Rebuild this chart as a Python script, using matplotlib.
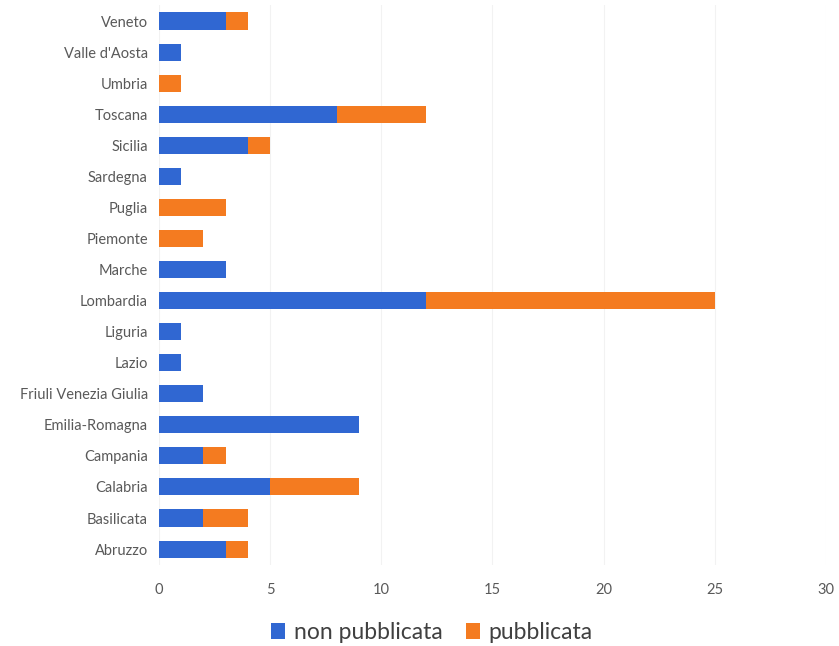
import numpy as np
import matplotlib.pyplot as plt

regions = ['Abruzzo', 'Basilicata', 'Calabria', 'Campania', 'Emilia-Romagna',
           'Friuli Venezia Giulia', 'Lazio', 'Liguria', 'Lombardia', 'Marche',
           'Piemonte', 'Puglia', 'Sardegna', 'Sicilia', 'Toscana', 'Umbria',
           "Valle d'Aosta", 'Veneto']
non_pubblicata = [3, 2, 5, 2, 9, 2, 1, 1, 12, 3, 0, 0, 1, 4, 8, 0, 1, 3]
pubblicata = [1, 2, 4, 1, 0, 0, 0, 0, 13, 0, 2, 3, 0, 1, 4, 1, 0, 1]
xticks = [0, 5, 10, 15, 20, 25, 30]

plt.rcParams['font.family'] = ['Lato', 'DejaVu Sans']

fig = plt.figure(figsize=(8.39, 6.46), dpi=100)
ax = fig.add_axes([0.1895, 0.126, 0.795, 0.8655])

y = np.arange(len(regions))
blue = '#3067D2'
orange = '#F47B20'
ax.barh(y, non_pubblicata, height=0.55, color=blue, label='non pubblicata')
ax.barh(y, pubblicata, left=non_pubblicata, height=0.55, color=orange, label='pubblicata')

ax.set_xlim(0, 30)
ax.set_ylim(-0.5, len(regions) - 0.5)
ax.set_xticks(xticks)
ax.set_yticks(y)
ax.set_yticklabels(regions)
ax.tick_params(axis='both', length=0, colors='#595959', labelsize=10.5)
ax.tick_params(axis='x', pad=13)
ax.tick_params(axis='y', pad=8)
for s in ax.spines.values():
    s.set_visible(False)
ax.grid(axis='x', color='#F2F2F2', linewidth=0.8)
ax.set_axisbelow(True)

fig.legend(loc='lower center', bbox_to_anchor=(0.515, -0.027), ncol=2, frameon=False,
           fontsize=16.5, handlelength=0.6, handleheight=0.7, handletextpad=0.4,
           columnspacing=1.0, labelcolor='#404040')

fig.savefig('out.png', dpi=100)
